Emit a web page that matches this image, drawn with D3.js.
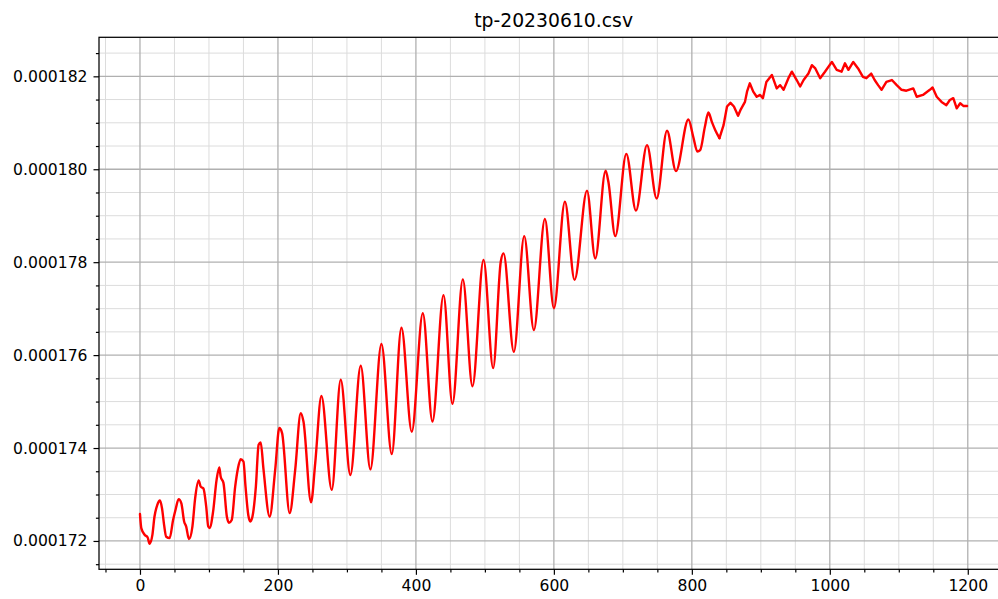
<!DOCTYPE html>
<html><head><meta charset="utf-8">
<script src="https://cdn.jsdelivr.net/npm/d3@7/dist/d3.min.js"></script>
<style>html,body{margin:0;padding:0;background:#fff;overflow:hidden}</style>
</head><body><svg id="c" width="998" height="599"></svg>
<script>
const chartTitle = "tp-20230610.csv";
const sampleX = [0,2,7,11,14,18,21,25,29,32,35,38,43,48,52,56,60,64,67,71,76,80,85,88,92,96,99,101,106,111,115,117,121,126,129,133,138,142,146,150,153,157,160,163,168,172,175,179,188,196,202,206,217,225,233,237,248,254,263,278,291,305,320,334,350,365,379,394,410,424,440,453,468,482,498,512,523,527,542,557,571,587,600,616,630,648,660,675,679,689,705,719,735,749,764,777,795,802,808,812,819,824,829,834,840,846,851,856,861,867,871,877,880,884,889,894,899,903,908,916,923,928,933,940,945,952,957,962,969,974,979,986,993,1003,1010,1017,1022,1027,1034,1041,1048,1053,1060,1065,1070,1075,1082,1090,1097,1104,1111,1121,1126,1135,1145,1149,1155,1162,1169,1174,1179,1184,1189,1194,1199];
const tpValues = [0.00017258,0.00017227,0.00017213,0.00017208,0.00017194,0.00017213,0.00017252,0.00017277,0.00017287,0.00017270,0.00017234,0.00017209,0.00017206,0.00017245,0.00017270,0.00017290,0.00017281,0.00017242,0.00017231,0.00017204,0.00017231,0.00017292,0.00017330,0.00017317,0.00017313,0.00017274,0.00017231,0.00017228,0.00017263,0.00017331,0.00017358,0.00017338,0.00017325,0.00017252,0.00017239,0.00017245,0.00017317,0.00017356,0.00017376,0.00017371,0.00017317,0.00017256,0.00017242,0.00017252,0.00017317,0.00017407,0.00017412,0.00017355,0.00017252,0.00017353,0.00017443,0.00017432,0.00017260,0.00017353,0.00017475,0.00017457,0.00017283,0.00017367,0.00017512,0.00017310,0.00017547,0.00017342,0.00017577,0.00017354,0.00017624,0.00017387,0.00017659,0.00017435,0.00017690,0.00017457,0.00017729,0.00017495,0.00017763,0.00017533,0.00017805,0.00017572,0.00017801,0.00017819,0.00017607,0.00017856,0.00017654,0.00017893,0.00017701,0.00017930,0.00017762,0.00017954,0.00017808,0.00017997,0.00017973,0.00017856,0.00018033,0.00017911,0.00018052,0.00017937,0.00018083,0.00017996,0.00018107,0.00018070,0.00018038,0.00018041,0.00018092,0.00018122,0.00018102,0.00018084,0.00018067,0.00018095,0.00018135,0.00018143,0.00018135,0.00018115,0.00018129,0.00018145,0.00018167,0.00018185,0.00018167,0.00018156,0.00018160,0.00018153,0.00018188,0.00018203,0.00018174,0.00018181,0.00018171,0.00018196,0.00018210,0.00018192,0.00018178,0.00018192,0.00018206,0.00018224,0.00018217,0.00018196,0.00018210,0.00018231,0.00018214,0.00018210,0.00018228,0.00018214,0.00018231,0.00018217,0.00018199,0.00018196,0.00018206,0.00018192,0.00018181,0.00018171,0.00018188,0.00018192,0.00018181,0.00018171,0.00018169,0.00018174,0.00018156,0.00018160,0.00018171,0.00018176,0.00018156,0.00018145,0.00018138,0.00018149,0.00018153,0.00018131,0.00018142,0.00018136,0.00018136];
const xMajorTicks = [0,200,400,600,800,1000,1200];
const xTickLabels = ["0","200","400","600","800","1000","1200"];
const yMajorTicks = [0.000172,0.000174,0.000176,0.000178,0.000180,0.000182];
const yTickLabels = ["0.000172","0.000174","0.000176","0.000178","0.000180","0.000182"];

const svg = d3.select("#c");
const L = 99, T = 37.3, B = 569.3, R = 1008.2;
const x = d3.scaleLinear().domain([-59.4, 1258.6]).range([L, R]);
const y = d3.scaleLinear().domain([0.00017139, 0.00018284]).range([B, T]);

const xMinor = d3.range(-1, 26).map(k => k * 50).filter(v => xMajorTicks.indexOf(v) < 0);
const yMinor = d3.range(343, 366).map(k => k * 5e-7).filter(v => yMajorTicks.every(m => Math.abs(m - v) > 1e-9));

const font = "'DejaVu Sans', sans-serif";
const g = svg.append("g");
g.selectAll(".gxm").data(xMinor).enter().append("line")
  .attr("x1", d => x(d)).attr("x2", d => x(d)).attr("y1", T).attr("y2", B)
  .attr("stroke", "#dcdcdc").attr("stroke-width", 1);
g.selectAll(".gym").data(yMinor).enter().append("line")
  .attr("y1", d => y(d)).attr("y2", d => y(d)).attr("x1", L).attr("x2", R)
  .attr("stroke", "#dcdcdc").attr("stroke-width", 1);
g.selectAll(".gx").data(xMajorTicks).enter().append("line")
  .attr("x1", d => x(d)).attr("x2", d => x(d)).attr("y1", T).attr("y2", B)
  .attr("stroke", "#b0b0b0").attr("stroke-width", 1.3);
g.selectAll(".gy").data(yMajorTicks).enter().append("line")
  .attr("y1", d => y(d)).attr("y2", d => y(d)).attr("x1", L).attr("x2", R)
  .attr("stroke", "#b0b0b0").attr("stroke-width", 1.3);

// line: smooth oscillating part, jagged noisy plateau
const pts = sampleX.map((d, i) => [d, tpValues[i]]);
const splitX = 840;
const smoothPts = pts.filter(p => p[0] <= splitX);
const noisyPts = pts.filter(p => p[0] >= splitX);
const lineGen = d3.line().x(d => x(d[0])).y(d => y(d[1]));
svg.append("path").datum(smoothPts)
  .attr("fill", "none").attr("stroke", "#ff0000").attr("stroke-width", 2.4)
  .attr("stroke-linejoin", "round").attr("stroke-linecap", "round")
  .attr("d", lineGen.curve(d3.curveMonotoneX)(smoothPts));
svg.append("path").datum(noisyPts)
  .attr("fill", "none").attr("stroke", "#ff0000").attr("stroke-width", 2.4)
  .attr("stroke-linejoin", "round").attr("stroke-linecap", "round")
  .attr("d", lineGen.curve(d3.curveLinear)(noisyPts));

const xAxis = d3.axisBottom(x).tickValues(xMajorTicks).tickFormat((d, i) => xTickLabels[i]).tickSize(5.5).tickPadding(5);
const xAxisMinor = d3.axisBottom(x).tickValues(xMinor).tickFormat("").tickSize(3.1);
const yAxis = d3.axisLeft(y).tickValues(yMajorTicks).tickFormat((d, i) => yTickLabels[i]).tickSize(5.5).tickPadding(6);
const yAxisMinor = d3.axisLeft(y).tickValues(yMinor).tickFormat("").tickSize(3.1);

function style(sel) {
  sel.select(".domain").remove();
  sel.selectAll("line").attr("stroke", "#000").attr("stroke-width", 1.2);
  sel.selectAll("text").attr("fill", "#000").style("font-family", font).style("font-size", "15.6px");
}
svg.append("g").attr("transform", `translate(0,${B})`).call(xAxis).call(style);
svg.append("g").attr("transform", `translate(0,${B})`).call(xAxisMinor).call(style);
svg.append("g").attr("transform", `translate(${L},0)`).call(yAxis).call(style);
svg.append("g").attr("transform", `translate(${L},0)`).call(yAxisMinor).call(style);

svg.append("rect").attr("x", L).attr("y", T).attr("width", R - L).attr("height", B - T)
  .attr("fill", "none").attr("stroke", "#000").attr("stroke-width", 1.25);

svg.append("text").attr("x", (L + R) / 2).attr("y", 27).attr("text-anchor", "middle")
  .style("font-family", font).style("font-size", "18.8px").attr("fill", "#000").text(chartTitle);
</script></body></html>
